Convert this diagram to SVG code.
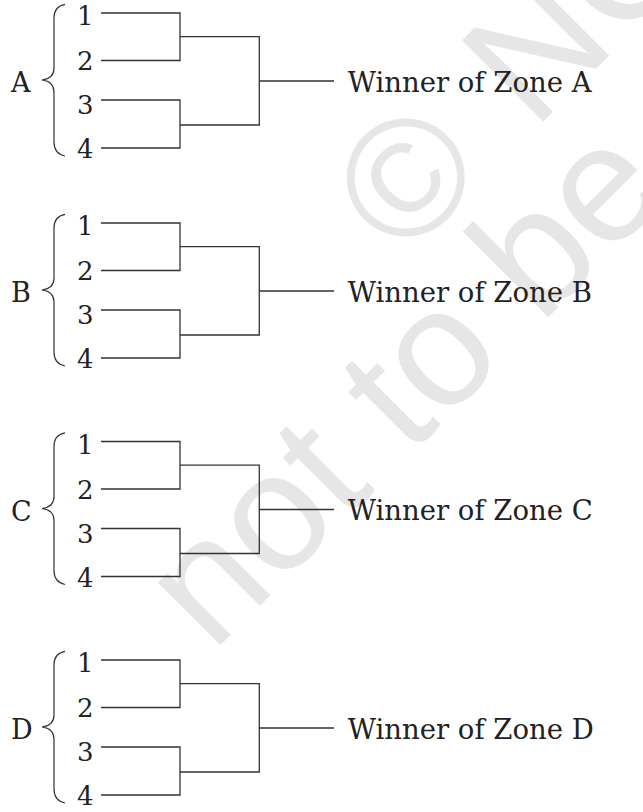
<svg xmlns="http://www.w3.org/2000/svg" xmlns:xlink="http://www.w3.org/1999/xlink" width="643" height="812" viewBox="0 0 643 812">
  <style>
    .wm { font-family: "Liberation Sans", Arial, sans-serif; font-size: 167px; fill: #e6e6e6; }
    .lbl { font-family: "DejaVu Serif", "Liberation Serif", serif; fill: #222222; }
    .zone { font-size: 27px; }
    .seed { font-size: 26px; }
    .win { font-size: 27.5px; }
    .wire { fill: none; stroke: #333333; stroke-width: 1.3; }
    .brace { fill: none; stroke: #333333; stroke-width: 1.2; }
  </style>
  <defs>
    <path id="bracePath" class="brace" d="M65,4.3 C58,5.5 54,9 54,18 L54,68 C54,75 50,79 42,80 C50,81 54,85 54,92 L54,142 C54,151 58,154.5 65,156"/>
  </defs>
  <rect x="0" y="0" width="643" height="812" fill="#ffffff"/>

  <g id="watermark">
    <text class="wm" transform="rotate(-45)" x="100" y="470">©<tspan dx="15"> NCERT</tspan></text>
    <text class="wm" transform="rotate(-45)" x="-312" y="612">not to be republished</text>
  </g>

  <g id="connectors">
    <path class="wire" d="M101,13 H180 V60.5 H101 M101,100 H180 V148 H101 M180,36.7 H259.3 V125 H180 M259.3,81 H334"/>
    <path class="wire" d="M101,223 H180 V270.5 H101 M101,310 H180 V358 H101 M180,246.7 H259.3 V335 H180 M259.3,291 H334"/>
    <path class="wire" d="M101,441.5 H180 V489 H101 M101,528.5 H180 V576.5 H101 M180,465.2 H259.3 V553.5 H180 M259.3,509.5 H334"/>
    <path class="wire" d="M101,660 H180 V707.5 H101 M101,747 H180 V795 H101 M180,683.7 H259.3 V772 H180 M259.3,728 H334"/>
  </g>

  <g id="zoneA">
    <g id="zoneA-label"><text class="lbl zone" x="11" y="92">A</text><use xlink:href="#bracePath"/></g>
    <g id="zoneA-seed1"><text class="lbl seed" x="77" y="25">1</text></g>
    <g id="zoneA-seed2"><text class="lbl seed" x="77" y="70">2</text></g>
    <g id="zoneA-seed3"><text class="lbl seed" x="77" y="114">3</text></g>
    <g id="zoneA-seed4"><text class="lbl seed" x="77" y="158">4</text></g>
    <g id="zoneA-winner"><text class="lbl win" x="347.7" y="92">Winner of Zone A</text></g>
  </g>

  <g id="zoneB">
    <g id="zoneB-label"><text class="lbl zone" x="11" y="302">B</text><use xlink:href="#bracePath" transform="translate(0,210)"/></g>
    <g id="zoneB-seed1"><text class="lbl seed" x="77" y="235">1</text></g>
    <g id="zoneB-seed2"><text class="lbl seed" x="77" y="280">2</text></g>
    <g id="zoneB-seed3"><text class="lbl seed" x="77" y="324">3</text></g>
    <g id="zoneB-seed4"><text class="lbl seed" x="77" y="368">4</text></g>
    <g id="zoneB-winner"><text class="lbl win" x="347.7" y="302">Winner of Zone B</text></g>
  </g>

  <g id="zoneC">
    <g id="zoneC-label"><text class="lbl zone" x="11" y="520.5">C</text><use xlink:href="#bracePath" transform="translate(0,428.5)"/></g>
    <g id="zoneC-seed1"><text class="lbl seed" x="77" y="453.5">1</text></g>
    <g id="zoneC-seed2"><text class="lbl seed" x="77" y="498.5">2</text></g>
    <g id="zoneC-seed3"><text class="lbl seed" x="77" y="542.5">3</text></g>
    <g id="zoneC-seed4"><text class="lbl seed" x="77" y="586.5">4</text></g>
    <g id="zoneC-winner"><text class="lbl win" x="347.7" y="520">Winner of Zone C</text></g>
  </g>

  <g id="zoneD">
    <g id="zoneD-label"><text class="lbl zone" x="11" y="739">D</text><use xlink:href="#bracePath" transform="translate(0,647)"/></g>
    <g id="zoneD-seed1"><text class="lbl seed" x="77" y="672">1</text></g>
    <g id="zoneD-seed2"><text class="lbl seed" x="77" y="717">2</text></g>
    <g id="zoneD-seed3"><text class="lbl seed" x="77" y="761">3</text></g>
    <g id="zoneD-seed4"><text class="lbl seed" x="77" y="805">4</text></g>
    <g id="zoneD-winner"><text class="lbl win" x="347.7" y="739">Winner of Zone D</text></g>
  </g>
</svg>
